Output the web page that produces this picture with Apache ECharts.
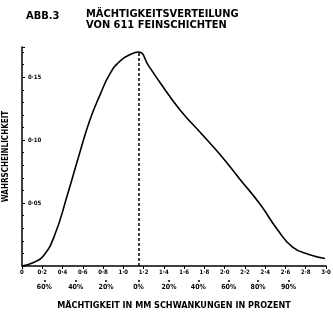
<!DOCTYPE html>
<html>
<head>
<meta charset="utf-8">
<script src="https://cdn.jsdelivr.net/npm/echarts@6/dist/echarts.min.js"></script>
<style>
  html, body { margin: 0; padding: 0; background: #fff; }
  #main { width: 333px; height: 312px; }
</style>
</head>
<body>
<div id="main"></div>
<script>
// thickness in mm (x) and probability (y)
const thickness = [0, 0.12, 0.21, 0.32, 0.45, 0.57, 0.67, 0.77, 0.87, 0.97, 1.07, 1.15, 1.25, 1.36, 1.56, 1.76, 1.95, 2.15, 2.35, 2.52, 2.67, 2.84, 2.99]
const probability = [0, 0.003, 0.008, 0.024, 0.057, 0.090, 0.116, 0.136, 0.153, 0.163, 0.168, 0.170, 0.159, 0.146, 0.124, 0.106, 0.089, 0.069, 0.049, 0.029, 0.015, 0.009, 0.006]
const meanValue = 1.15
const peakValue = 0.170

// percentage scale under the mm axis
const pctTicks = [0.22, 0.53, 0.83, 1.15, 1.45, 1.74, 2.04, 2.33, 2.63]
const pctLabels = ['60%', '40%', '20%', '0%', '20%', '40%', '60%', '80%', '90%']

const font = '"DejaVu Sans Condensed", "DejaVu Sans", sans-serif'

let chartDom = document.getElementById('main')
let myChart = echarts.init(chartDom)
let option

option = {
  animation: false,
  title: [
    {
      text: 'ABB.3',
      left: 21,
      top: 6,
      textStyle: { fontFamily: font, fontSize: 11, fontWeight: 'bold', color: '#000' }
    },
    {
      text: 'MÄCHTIGKEITSVERTEILUNG\nVON 611 FEINSCHICHTEN',
      left: 81,
      top: 4,
      textStyle: { fontFamily: font, fontSize: 11, fontWeight: 'bold', color: '#000', lineHeight: 11 }
    }
  ],
  grid: { left: 22, right: 7, top: 47, bottom: 46, outerBoundsMode: 'none', containLabel: false },
  xAxis: [
    {
      type: 'value',
      min: 0,
      max: 3.0,
      interval: 0.2,
      splitLine: { show: false },
      axisLine: { lineStyle: { color: '#000', width: 1.5 } },
      axisTick: { lineStyle: { color: '#000' }, length: 3 },
      axisLabel: {
        color: '#000',
        fontFamily: font,
        fontSize: 6,
        fontWeight: 'bold',
        margin: 3,
        formatter: v => (v === 0 ? '0' : v.toFixed(1).replace('.', '·'))
      }
    },
    {
      type: 'value',
      position: 'bottom',
      offset: 14,
      min: 0,
      max: 3.0,
      splitLine: { show: false },
      axisLine: { show: false },
      axisTick: { show: true, customValues: pctTicks, length: 2, lineStyle: { color: '#000', width: 1.5 } },
      axisLabel: {
        customValues: pctTicks,
        color: '#000',
        fontFamily: font,
        fontSize: 7,
        fontWeight: 'bold',
        margin: 4,
        formatter: v => {
          let i = pctTicks.findIndex(t => Math.abs(t - v) < 1e-6)
          return i >= 0 ? pctLabels[i] : ''
        }
      },
      name: 'MÄCHTIGKEIT IN MM SCHWANKUNGEN IN PROZENT',
      nameLocation: 'middle',
      nameGap: 21,
      nameTextStyle: { color: '#000', fontFamily: font, fontSize: 9, fontWeight: 'bold' }
    }
  ],
  yAxis: {
    type: 'value',
    min: 0,
    max: 0.174,
    interval: 0.05,
    splitLine: { show: false },
    axisLine: { show: true, lineStyle: { color: '#000', width: 1.5 } },
    axisTick: { show: true, inside: true, length: 3, lineStyle: { color: '#000' } },
    minorTick: { show: true, splitNumber: 5, length: 2, lineStyle: { color: '#000' } },
    axisLabel: {
      inside: true,
      showMinLabel: false,
      showMaxLabel: false,
      color: '#000',
      fontFamily: font,
      fontSize: 6,
      fontWeight: 'bold',
      margin: 6,
      formatter: v => v.toFixed(2).replace('.', '·')
    },
    name: 'WAHRSCHEINLICHKEIT',
    nameLocation: 'middle',
    nameGap: 12,
    nameRotate: 90,
    nameTextStyle: { color: '#000', fontFamily: font, fontSize: 8, fontWeight: 'bold' }
  },
  series: [
    {
      type: 'line',
      smooth: 0.5,
      symbol: 'none',
      lineStyle: { color: '#000', width: 1.6 },
      data: thickness.map((t, i) => [t, probability[i]]),
      markLine: {
        silent: true,
        symbol: 'none',
        label: { show: false },
        lineStyle: { color: '#000', type: [3, 2], width: 1.5 },
        data: [[{ coord: [meanValue, 0] }, { coord: [meanValue, peakValue] }]]
      }
    }
  ]
}

option && myChart.setOption(option)
</script>
</body>
</html>
